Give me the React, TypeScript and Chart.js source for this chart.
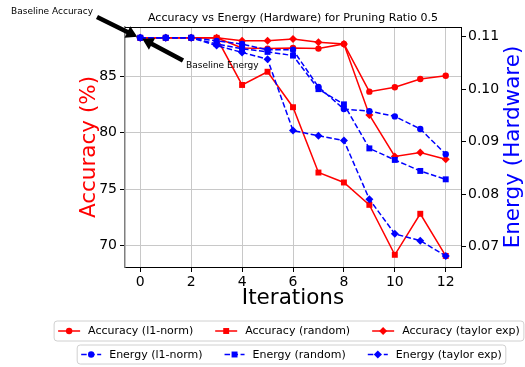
import { useEffect, useRef } from 'react';
import { Chart, registerables } from 'chart.js';

Chart.register(...registerables);

// ---- data ----
const iterations = [0, 1, 2, 3, 4, 5, 6, 7, 8, 9, 10, 11, 12];

const accuracyL1 = [88.4, 88.4, 88.4, 88.4, 87.5, 87.45, 87.5, 87.45, 87.86, 83.64, 84.03, 84.76, 85.05];
const accuracyRandom = [88.4, 88.4, 88.4, 88.4, 84.23, 85.4, 82.26, 76.48, 75.6, 73.62, 69.2, 72.83, 69.1];
const accuracyTaylor = [88.4, 88.4, 88.4, 88.4, 88.15, 88.15, 88.3, 88.0, 87.86, 81.58, 77.9, 78.25, 77.66];

const energyL1 = [0.1098, 0.1098, 0.1098, 0.1092, 0.1086, 0.1075, 0.1075, 0.1004, 0.0962, 0.0958, 0.0948, 0.0924, 0.0876];
const energyRandom = [0.1098, 0.1098, 0.1098, 0.1086, 0.1077, 0.1071, 0.1064, 0.1, 0.0971, 0.0887, 0.0865, 0.0844, 0.0828];
const energyTaylor = [0.1098, 0.1098, 0.1098, 0.1083, 0.107, 0.1057, 0.0921, 0.0911, 0.0902, 0.079, 0.0724, 0.0711, 0.0682];

const xTicks = [0, 2, 4, 6, 8, 10, 12];
const accuracyTicks = [70, 75, 80, 85];
const energyTicks = [0.07, 0.08, 0.09, 0.1, 0.11];

const titleText = 'Accuracy vs Energy (Hardware) for Pruning Ratio 0.5';
const xTitle = 'Iterations';
const accuracyTitle = 'Accuracy (%)';
const energyTitle = 'Energy (Hardware)';
const baselineAccuracyLabel = 'Baseline Accuracy';
const baselineEnergyLabel = 'Baseline Energy';

const FONT = '"DejaVu Sans", sans-serif';
const RED = '#ff0000';
const BLUE = '#0000ff';
const DASH = [5.5, 2.5];

type Marker = 'circle' | 'rect' | 'rectRot';

interface SeriesDef {
  label: string;
  values: number[];
  color: string;
  marker: Marker;
  radius: number;
  dashed: boolean;
  axis: 'yAcc' | 'yEnergy';
  order: number;
}

const series: SeriesDef[] = [
  { label: 'Accuracy (l1-norm)', values: accuracyL1, color: RED, marker: 'circle', radius: 3.2, dashed: false, axis: 'yAcc', order: 6 },
  { label: 'Accuracy (random)', values: accuracyRandom, color: RED, marker: 'rect', radius: 4.2, dashed: false, axis: 'yAcc', order: 5 },
  { label: 'Accuracy (taylor exp)', values: accuracyTaylor, color: RED, marker: 'rectRot', radius: 4, dashed: false, axis: 'yAcc', order: 4 },
  { label: 'Energy (l1-norm)', values: energyL1, color: BLUE, marker: 'circle', radius: 3.2, dashed: true, axis: 'yEnergy', order: 3 },
  { label: 'Energy (random)', values: energyRandom, color: BLUE, marker: 'rect', radius: 4.2, dashed: true, axis: 'yEnergy', order: 2 },
  { label: 'Energy (taylor exp)', values: energyTaylor, color: BLUE, marker: 'rectRot', radius: 4, dashed: true, axis: 'yEnergy', order: 1 },
];

function drawMarker(ctx: CanvasRenderingContext2D, m: Marker, x: number, y: number, r: number, color: string) {
  ctx.save();
  ctx.fillStyle = color;
  ctx.setLineDash([]);
  ctx.beginPath();
  if (m === 'circle') {
    ctx.arc(x, y, r, 0, Math.PI * 2);
  } else if (m === 'rect') {
    const s = r * Math.SQRT1_2;
    ctx.rect(x - s, y - s, 2 * s, 2 * s);
  } else {
    ctx.moveTo(x, y - r);
    ctx.lineTo(x + r, y);
    ctx.lineTo(x, y + r);
    ctx.lineTo(x - r, y);
    ctx.closePath();
  }
  ctx.fill();
  ctx.restore();
}

function drawArrow(ctx: CanvasRenderingContext2D, x1: number, y1: number, x2: number, y2: number) {
  const shaft = 4.6;
  const headW = 13;
  const headL = 11;
  const dx = x2 - x1;
  const dy = y2 - y1;
  const len = Math.hypot(dx, dy);
  const ux = dx / len;
  const uy = dy / len;
  const px = -uy;
  const py = ux;
  const bx = x2 - ux * headL;
  const by = y2 - uy * headL;
  ctx.save();
  ctx.fillStyle = '#000';
  ctx.beginPath();
  ctx.moveTo(x1 + px * shaft / 2, y1 + py * shaft / 2);
  ctx.lineTo(bx + px * shaft / 2, by + py * shaft / 2);
  ctx.lineTo(bx + px * headW / 2, by + py * headW / 2);
  ctx.lineTo(x2, y2);
  ctx.lineTo(bx - px * headW / 2, by - py * headW / 2);
  ctx.lineTo(bx - px * shaft / 2, by - py * shaft / 2);
  ctx.lineTo(x1 - px * shaft / 2, y1 - py * shaft / 2);
  ctx.closePath();
  ctx.fill();
  ctx.restore();
}

function roundRect(ctx: CanvasRenderingContext2D, x: number, y: number, w: number, h: number, r: number) {
  ctx.beginPath();
  ctx.moveTo(x + r, y);
  ctx.lineTo(x + w - r, y);
  ctx.arcTo(x + w, y, x + w, y + r, r);
  ctx.lineTo(x + w, y + h - r);
  ctx.arcTo(x + w, y + h, x + w - r, y + h, r);
  ctx.lineTo(x + r, y + h);
  ctx.arcTo(x, y + h, x, y + h - r, r);
  ctx.lineTo(x, y + r);
  ctx.arcTo(x, y, x + r, y, r);
  ctx.closePath();
}

function drawLegendRow(ctx: CanvasRenderingContext2D, items: SeriesDef[], cx: number, top: number, h: number, handleLen: number) {
  const pad = 4;
  const textPad = 8;
  const colGap = 22;
  ctx.save();
  ctx.font = `11px ${FONT}`;
  const widths = items.map((it) => ctx.measureText(it.label).width);
  const total = pad * 2 + items.length * (handleLen + textPad) + widths.reduce((a, b) => a + b, 0) + colGap * (items.length - 1);
  const left = cx - total / 2;
  roundRect(ctx, left, top, total, h, 3);
  ctx.fillStyle = 'rgba(255,255,255,0.8)';
  ctx.fill();
  ctx.strokeStyle = '#d0d0d0';
  ctx.lineWidth = 1;
  ctx.stroke();
  const cy = top + h / 2;
  let x = left + pad;
  items.forEach((it, i) => {
    ctx.strokeStyle = it.color;
    ctx.lineWidth = 1.5;
    ctx.setLineDash(it.dashed ? DASH : []);
    ctx.beginPath();
    ctx.moveTo(x, cy);
    ctx.lineTo(x + handleLen, cy);
    ctx.stroke();
    drawMarker(ctx, it.marker, x + handleLen / 2, cy, it.radius, it.color);
    ctx.setLineDash([]);
    ctx.fillStyle = '#000';
    ctx.textBaseline = 'middle';
    ctx.textAlign = 'left';
    ctx.fillText(it.label, x + handleLen + textPad, cy + 0.5);
    x += handleLen + textPad + widths[i] + colGap;
  });
  ctx.restore();
}

const decorations = {
  id: 'decorations',
  afterDraw(chart: Chart) {
    const ctx = chart.ctx;
    const a = chart.chartArea;
    ctx.save();
    // top spine
    ctx.strokeStyle = '#000';
    ctx.lineWidth = 1;
    ctx.beginPath();
    ctx.moveTo(a.left, Math.round(a.top) + 0.5);
    ctx.lineTo(a.right, Math.round(a.top) + 0.5);
    ctx.stroke();

    const cx = (a.left + a.right) / 2;
    const cy = (a.top + a.bottom) / 2;

    // title
    ctx.fillStyle = '#000';
    ctx.font = `11px ${FONT}`;
    ctx.textAlign = 'center';
    ctx.textBaseline = 'alphabetic';
    ctx.fillText(titleText, cx, 21);

    // x axis title
    ctx.font = `21.5px ${FONT}`;
    ctx.textBaseline = 'middle';
    ctx.fillText(xTitle, cx, 298);

    // left axis title
    ctx.save();
    ctx.translate(89, cy);
    ctx.rotate(-Math.PI / 2);
    ctx.fillStyle = RED;
    ctx.fillText(accuracyTitle, 0, 0);
    ctx.restore();

    // right axis title
    ctx.save();
    ctx.translate(513, cy);
    ctx.rotate(-Math.PI / 2);
    ctx.fillStyle = BLUE;
    ctx.fillText(energyTitle, 0, 0);
    ctx.restore();

    // baseline annotations
    const xs = chart.scales.x;
    const px0 = xs.getPixelForValue(iterations[0]);
    const pyAcc = chart.scales.yAcc.getPixelForValue(accuracyL1[0]);
    const pyEn = chart.scales.yEnergy.getPixelForValue(energyL1[0]);
    drawArrow(ctx, 97, 17, px0 - 3, pyAcc - 1);
    drawArrow(ctx, 183, 60.5, px0 + 2, pyEn + 1);
    ctx.font = `9px ${FONT}`;
    ctx.textAlign = 'left';
    ctx.textBaseline = 'alphabetic';
    ctx.fillStyle = '#000';
    ctx.fillText(baselineAccuracyLabel, 11, 13.5);
    ctx.fillText(baselineEnergyLabel, 186, 67.5);

    // legends
    drawLegendRow(ctx, series.slice(0, 3), 289, 321, 20, 22);
    drawLegendRow(ctx, series.slice(3), 291.5, 345, 19, 20);
    ctx.restore();
  },
};

export default function App() {
  const canvasRef = useRef<HTMLCanvasElement | null>(null);

  useEffect(() => {
    const canvas = canvasRef.current;
    if (!canvas) return;

    const datasets = series.map((s) => ({
      label: s.label,
      data: iterations.map((x, i) => ({ x, y: s.values[i] })),
      yAxisID: s.axis,
      xAxisID: 'x',
      borderColor: s.color,
      backgroundColor: s.color,
      borderWidth: 1.5,
      borderDash: s.dashed ? DASH : [],
      pointStyle: s.marker,
      pointRadius: s.radius,
      pointHoverRadius: s.radius,
      pointBorderWidth: 0,
      pointBackgroundColor: s.color,
      tension: 0,
      fill: false,
      order: s.order,
    }));

    const tickFont = { family: FONT, size: 14 };

    const chart = new Chart(canvas, {
      type: 'line',
      data: { datasets },
      options: {
        animation: false,
        responsive: false,
        maintainAspectRatio: false,
        devicePixelRatio: 1,
        layout: { padding: { top: 27, left: 0, right: 0, bottom: 0 } },
        plugins: {
          legend: { display: false },
          title: { display: false },
          tooltip: { enabled: false },
        },
        scales: {
          x: {
            type: 'linear',
            position: 'bottom',
            min: -0.6,
            max: 12.6,
            afterBuildTicks: (s: any) => {
              s.ticks = xTicks.map((v) => ({ value: v }));
            },
            afterFit: (s: any) => {
              s.height = 100;
            },
            ticks: {
              font: tickFont,
              color: '#000',
              padding: 2,
              maxRotation: 0,
              autoSkip: false,
              callback: (v: any) => String(v),
            },
            grid: { color: '#c8c8c8', lineWidth: 1, tickColor: '#000', tickLength: 5, drawTicks: true },
            border: { color: '#000', width: 1 },
          },
          yAcc: {
            type: 'linear',
            position: 'left',
            min: 68.12,
            max: 89.36,
            afterBuildTicks: (s: any) => {
              s.ticks = accuracyTicks.map((v) => ({ value: v }));
            },
            afterFit: (s: any) => {
              s.width = 125;
            },
            ticks: {
              font: tickFont,
              color: '#000',
              padding: 3,
              autoSkip: false,
              callback: (v: any) => String(v),
            },
            grid: { color: '#c8c8c8', lineWidth: 1, tickColor: '#000', tickLength: 5, drawTicks: true },
            border: { color: '#7f7f7f', width: 1.5 },
          },
          yEnergy: {
            type: 'linear',
            position: 'right',
            min: 0.06608,
            max: 0.11185,
            afterBuildTicks: (s: any) => {
              s.ticks = energyTicks.map((v) => ({ value: v }));
            },
            afterFit: (s: any) => {
              s.width = 64;
            },
            ticks: {
              font: tickFont,
              color: '#000',
              padding: 2,
              autoSkip: false,
              callback: (v: any) => Number(v).toFixed(2),
            },
            grid: { drawOnChartArea: false, tickColor: '#000', tickLength: 5, drawTicks: true },
            border: { color: '#000', width: 1 },
          },
        },
      },
      plugins: [decorations],
    });

    return () => chart.destroy();
  }, []);

  return (
    <div style={{ position: 'absolute', left: 0, top: 0, width: 525, height: 367, background: '#fff' }}>
      <canvas ref={canvasRef} width={525} height={367} style={{ display: 'block', width: 525, height: 367 }} />
    </div>
  );
}
